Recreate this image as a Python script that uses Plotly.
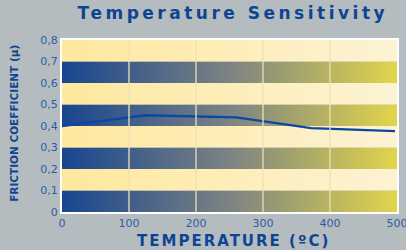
import plotly.graph_objects as go

# Data
temps = [0, 125, 260, 372, 497]
friction = [0.40, 0.45, 0.44, 0.39, 0.376]

x_ticks = [0, 100, 200, 300, 400, 500]
y_ticks = [0, 0.1, 0.2, 0.3, 0.4, 0.5, 0.6, 0.7, 0.8]
y_ticktext = ["0", "0,1", "0,2", "0,3", "0,4", "0,5", "0,6", "0,7", "0,8"]

title = "Temperature Sensitivity"
x_title = "TEMPERATURE (ºC)"
y_title = "FRICTION COEFFICIENT (µ)"

BLUE = "#0E4593"
TICK = "#2B5CA8"
BG = "#B5BCBF"
dark_scale = [[0, "#17458F"], [0.5, "#7C8382"], [1, "#E2D54B"]]
light_scale = [[0, "#FFE89E"], [1, "#FCF3D4"]]

x0, x1 = x_ticks[0], x_ticks[-1]


def spaced(s, px):
    return f'<span style="letter-spacing:{px}px"><b>{s}</b></span>'


fig = go.Figure()

# Background bands (alternating), derived from the y tick grid
for i in range(len(y_ticks) - 1):
    lo, hi = y_ticks[i], y_ticks[i + 1]
    scale = dark_scale if i % 2 == 0 else light_scale
    fig.add_trace(go.Scatter(
        x=[x0, x1, x1, x0, x0], y=[lo, lo, hi, hi, lo],
        mode="none", fill="toself",
        fillgradient=dict(type="horizontal", colorscale=scale),
        hoverinfo="skip", showlegend=False,
    ))

# Data line
fig.add_trace(go.Scatter(
    x=temps, y=friction, mode="lines",
    line=dict(color="#0B47A3", width=2.4),
    showlegend=False,
))

# Vertical gridlines above the bands
for t in x_ticks[1:-1]:
    fig.add_shape(type="line", xref="x", yref="paper", x0=t, x1=t, y0=0, y1=1,
                  line=dict(color="rgba(235,225,185,0.65)", width=2), layer="above")

fig.update_layout(
    width=406, height=250,
    margin=dict(l=62, r=9, t=40, b=38),
    paper_bgcolor=BG, plot_bgcolor=BG,
    font=dict(family="DejaVu Sans", color=TICK, size=11),
    title=dict(text=spaced(title, 3.5),
               font=dict(family="DejaVu Sans", size=17, color=BLUE),
               xref="paper", x=0.51, xanchor="center", yref="container", y=0.948, yanchor="middle"),
    showlegend=False,
)
fig.update_xaxes(range=[x0, x1], tickvals=x_ticks, showgrid=False, zeroline=False,
                 showline=True, mirror=True, linecolor="white", linewidth=2,
                 ticks="", tickfont=dict(size=11, color=TICK), automargin=False,
                 ticklabeloverflow="allow")
fig.update_yaxes(range=[y_ticks[0], y_ticks[-1]], tickvals=y_ticks, ticktext=y_ticktext,
                 showgrid=False, zeroline=False,
                 showline=True, mirror=True, linecolor="white", linewidth=2,
                 ticks="", tickfont=dict(size=11, color=TICK), automargin=False,
                 ticklabeloverflow="allow")

fig.add_annotation(text=spaced(x_title, 2), xref="paper", yref="paper",
                   x=0.511, y=0, yshift=-29, xanchor="center", yanchor="middle", showarrow=False,
                   font=dict(family="DejaVu Sans", size=15, color=BLUE))
fig.add_annotation(text=f"<b>{y_title}</b>", xref="paper", yref="paper",
                   x=-0.142, y=0.515, textangle=-90, xanchor="center", yanchor="middle",
                   showarrow=False, font=dict(family="DejaVu Sans", size=10.5, color=BLUE))

fig.write_html("out.html", config={"displayModeBar": False},
               post_script="document.body.style.margin='0';")
